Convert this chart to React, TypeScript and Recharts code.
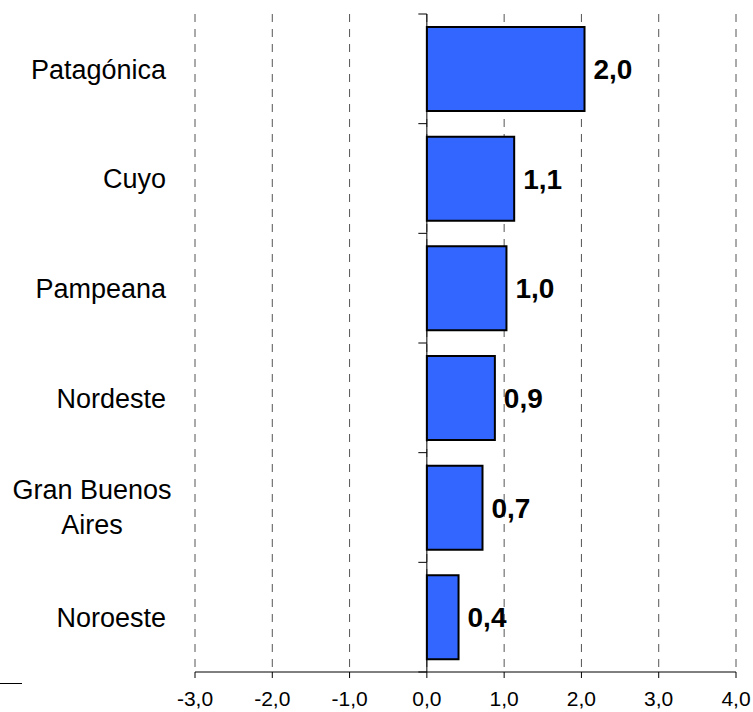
import React from "react";
import {
  BarChart, Bar, XAxis, YAxis, CartesianGrid, ReferenceLine, LabelList,
} from "recharts";

const regions = ["Patagónica", "Cuyo", "Pampeana", "Nordeste", "Gran Buenos\nAires", "Noroeste"];
const values = [2.04, 1.13, 1.03, 0.88, 0.72, 0.41];
const xTicks = [-3, -2, -1, 0, 1, 2, 3, 4];

const data = regions.map((name, i) => ({ name, value: values[i] }));

const FONT = "'Liberation Sans', Arial, sans-serif";

const fmt = (v: number) => v.toFixed(1).replace(".", ",");

// etiquetas de región: una línea alineada a la derecha, dos líneas centradas
const RegionTick = ({ y, payload }: { y?: number; payload?: { value: string } }) => {
  const lines = String(payload?.value ?? "").split("\n");
  if (lines.length === 1) {
    return (
      <text x={166} y={y} dy="0.36em" textAnchor="end" fontSize={27} fill="#000" fontFamily={FONT}>
        {lines[0]}
      </text>
    );
  }
  return (
    <text x={92} y={y} textAnchor="middle" fontSize={27} fill="#000" fontFamily={FONT}>
      {lines.map((l, i) => (
        <tspan key={i} x={92} dy={i === 0 ? "-0.32em" : "1.3em"}>{l}</tspan>
      ))}
    </text>
  );
};

export default function App() {
  return (
    <div style={{ position: "absolute", left: 0, top: 0, width: 753, height: 712, background: "#fff" }}>
      <BarChart
        width={753}
        height={712}
        data={data}
        layout="vertical"
        margin={{ top: 14, right: 17, bottom: 0, left: 0 }}
      >
        <CartesianGrid horizontal={false} stroke="#555" strokeDasharray="8 7" />
        <XAxis
          type="number"
          domain={[-3, 4]}
          ticks={xTicks}
          tickFormatter={fmt}
          height={40}
          tickSize={6}
          tickMargin={13}
          axisLine={{ stroke: "#000" }}
          tickLine={{ stroke: "#000" }}
          tick={{ fill: "#000", fontSize: 21, fontFamily: FONT }}
          allowDataOverflow
        />
        <YAxis
          type="category"
          dataKey="name"
          width={195}
          axisLine={false}
          tickLine={false}
          tick={<RegionTick />}
          interval={0}
        />
        <ReferenceLine x={0} stroke="#000" strokeWidth={1} ifOverflow="extendDomain" />
        {/* marcas del eje de categorías, en los bordes de cada banda */}
        {regions.map((r) => (
          <ReferenceLine
            key={r}
            segment={[{ x: -0.11, y: r }, { x: 0, y: r }]}
            position="start"
            stroke="#000"
            ifOverflow="visible"
          />
        ))}
        <ReferenceLine
          segment={[{ x: -0.11, y: regions[regions.length - 1] }, { x: 0, y: regions[regions.length - 1] }]}
          position="end"
          stroke="#000"
          ifOverflow="visible"
        />
        <Bar dataKey="value" fill="#3366FF" stroke="#000" strokeWidth={2} barSize={84} isAnimationActive={false}>
          <LabelList
            dataKey="value"
            position="right"
            offset={9}
            formatter={(v: number) => fmt(v)}
            fill="#000"
            fontSize={28}
            fontWeight="bold"
            fontFamily={FONT}
          />
        </Bar>
      </BarChart>
      <div style={{ position: "absolute", left: 0, top: 683, width: 22, height: 1, background: "#000" }} />
    </div>
  );
}
